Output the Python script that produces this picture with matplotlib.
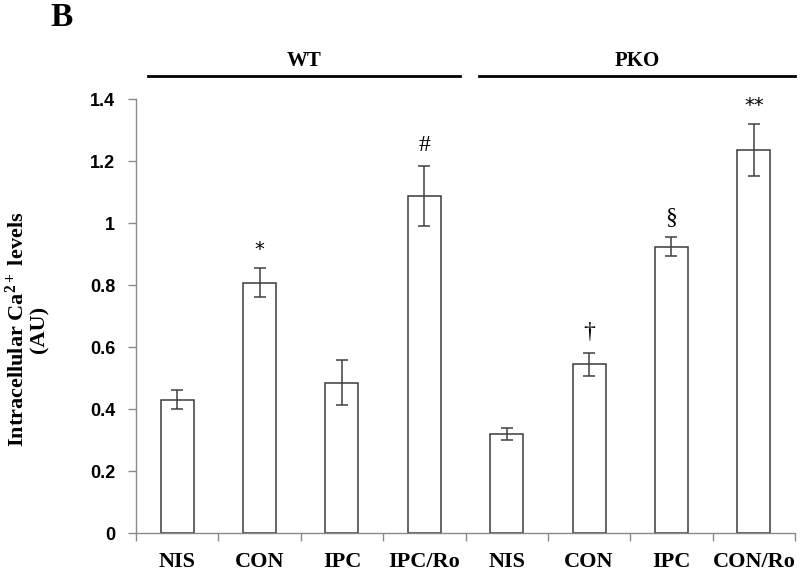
import matplotlib
matplotlib.use("Agg")
import matplotlib.pyplot as plt
import numpy as np

plt.rcParams["mathtext.fontset"] = "custom"
plt.rcParams["mathtext.rm"] = "Liberation Serif:bold"
plt.rcParams["mathtext.bf"] = "Liberation Serif:bold"
plt.rcParams["mathtext.it"] = "Liberation Serif:bold"

categories = ["NIS", "CON", "IPC", "IPC/Ro", "NIS", "CON", "IPC", "CON/Ro"]
values = [0.43, 0.807, 0.485, 1.087, 0.32, 0.545, 0.924, 1.236]
errors = [0.03, 0.047, 0.073, 0.098, 0.02, 0.037, 0.031, 0.083]
marks = ["", "*", "", "#", "", "\u2020", "\u00a7", "**"]
groups = ["WT", "PKO"]
yticks = [0, 0.2, 0.4, 0.6, 0.8, 1, 1.2, 1.4]

serif = "Liberation Serif"
sans = "Liberation Sans"
axis_gray = "#8a8a8a"

fig = plt.figure(figsize=(8, 5.83), dpi=100)
ax = fig.add_axes([136/800, 1-533/583, (795-136)/800, (533-99)/583])

x = np.arange(len(categories))
ax.bar(x, values, width=0.4, color="white", edgecolor="#3a3a3a", linewidth=1.1, zorder=2)
ax.errorbar(x, values, yerr=errors, fmt="none", ecolor="#404040", elinewidth=1.1,
            capsize=4, capthick=1.1, zorder=3)

for xi, v, e, m in zip(x, values, errors, marks):
    if m:
        if m in ("*", "**"):
            fs, fam = 14, ["DejaVu Sans"]
        else:
            fs, fam = 17, [serif, "DejaVu Serif"]
        ax.text(xi, v + e + 0.03, m, ha="center", va="bottom", fontsize=fs, family=fam)

ax.set_xlim(-0.5, len(categories) - 0.5)
ax.set_ylim(0, 1.4)
ax.set_yticks(yticks)
ax.set_yticklabels([f"{t:g}" for t in yticks], fontsize=13, fontweight="bold", family=sans)
ax.set_xticks(x)
ax.set_xticklabels(categories, fontsize=16, fontweight="bold", family=serif)
ax.tick_params(axis="x", which="major", length=0, pad=14)
ax.set_xticks(np.arange(-0.5, len(categories), 1), minor=True)
ax.tick_params(axis="x", which="minor", length=6, color=axis_gray, width=1)
ax.tick_params(axis="y", length=6, color=axis_gray, width=1, pad=9)
for s in ["top", "right"]:
    ax.spines[s].set_visible(False)
for s in ["left", "bottom"]:
    ax.spines[s].set_color(axis_gray)
    ax.spines[s].set_linewidth(1)

fig.text(17/800, 1-329/583, "Intracellular Ca$^{2+}$ levels", rotation=90,
         ha="center", va="center", fontsize=16, fontweight="bold", family=serif)
fig.text(39/800, 1-329/583, "(AU)", rotation=90,
         ha="center", va="center", fontsize=16, fontweight="bold", family=serif)

# group lines and labels (figure coords)
for (x0, x1), g in zip([(148, 460), (479, 795)], groups):
    fig.add_artist(plt.Line2D([x0/800, x1/800], [1-76/583]*2, color="black", lw=2))
    fig.text((x0 + x1)/2/800, 1-66/583, g, ha="center", va="baseline", fontsize=15,
             fontweight="bold", family=serif)

fig.text(62/800, 1-26/583, "B", ha="center", va="baseline", fontsize=24,
         fontweight="bold", family=serif)

fig.savefig("out.png", dpi=100)
